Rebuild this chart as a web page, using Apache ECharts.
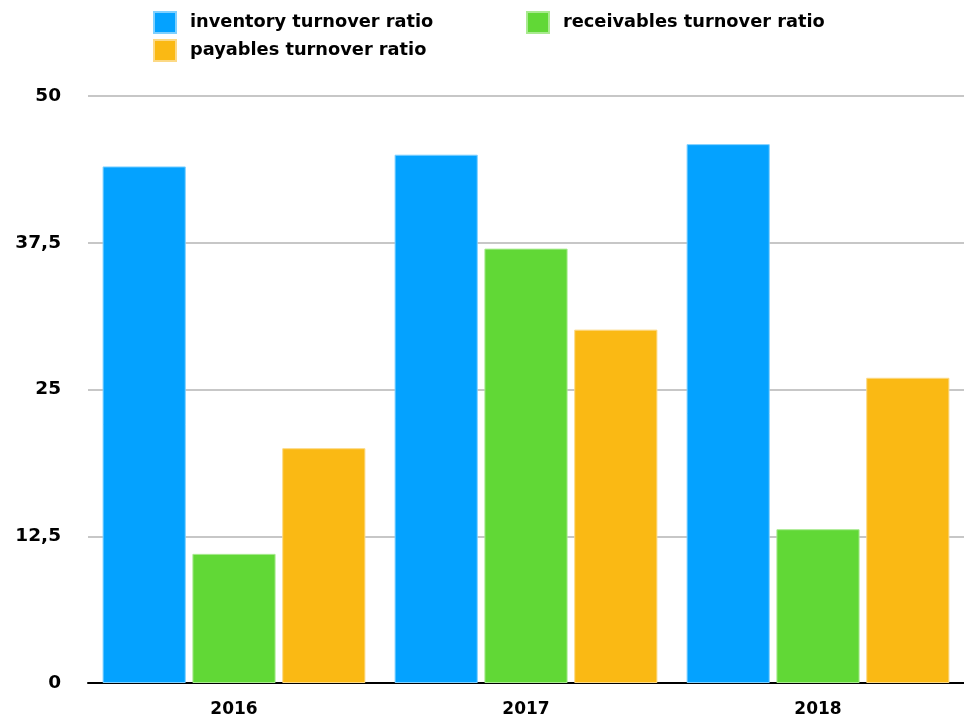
<!DOCTYPE html>
<html>
<head>
<meta charset="utf-8">
<script src="https://cdn.jsdelivr.net/npm/echarts@6/dist/echarts.min.js"></script>
<style>
  html, body { margin: 0; padding: 0; background: #ffffff; }
  #chart { width: 964px; height: 726px; }
</style>
</head>
<body>
<div id="chart"></div>
<script>
// Turnover ratios per year
const years = ['2016', '2017', '2018'];
const inventoryTurnover = [44.0, 45.0, 45.9];
const receivablesTurnover = [11.0, 37.0, 13.1];
const payablesTurnover = [20.0, 30.1, 26.0];
const yTicks = [0, 12.5, 25, 37.5, 50];

const FONT = '"DejaVu Sans", "Liberation Sans", sans-serif';
const colors = { inventory: '#04A2FF', receivables: '#61D836', payables: '#FAB914' };
const borders = { inventory: '#7fd0ff', receivables: '#a9ea90', payables: '#fcd985' };

function barSeries(name, data, key) {
  return {
    name: name,
    type: 'bar',
    data: data,
    barGap: '8%',
    barCategoryGap: '10%',
    itemStyle: { color: colors[key], borderColor: borders[key], borderWidth: 1 },
    emphasis: { disabled: true }
  };
}

const legendText = {
  fontFamily: FONT, fontWeight: 'bold', fontSize: 17.8, color: '#000',
  padding: [0, 0, 0, 9]
};

const chart = echarts.init(document.getElementById('chart'), null, { renderer: 'canvas' });
chart.setOption({
  animation: false,
  backgroundColor: '#ffffff',
  legend: [
    {
      data: ['inventory turnover ratio', 'payables turnover ratio'],
      orient: 'vertical',
      left: 148, top: 6,
      itemWidth: 22, itemHeight: 21, itemGap: 5,
      icon: 'rect',
      textStyle: legendText,
      selectedMode: false
    },
    {
      data: ['receivables turnover ratio'],
      orient: 'vertical',
      left: 521, top: 6,
      itemWidth: 22, itemHeight: 21,
      icon: 'rect',
      textStyle: legendText,
      selectedMode: false
    }
  ],
  grid: { left: 88, width: 887, top: 96, bottom: 43, containLabel: false },
  xAxis: {
    type: 'category',
    data: years,
    axisLine: { show: true, lineStyle: { color: '#000', width: 2 } },
    axisTick: { show: false },
    axisLabel: { fontFamily: FONT, fontWeight: 'bold', fontSize: 17, color: '#000', margin: 18 }
  },
  yAxis: {
    type: 'value',
    min: 0, max: 50, interval: 12.5,
    axisLine: { show: false },
    axisTick: { show: false },
    splitLine: { lineStyle: { color: '#b4b4b4', width: 1.5 } },
    axisLabel: {
      fontFamily: FONT, fontWeight: 'bold', fontSize: 18.5, color: '#000', margin: 27,
      formatter: function (v) {
        return yTicks.indexOf(v) >= 0 ? String(v).replace('.', ',') : '';
      }
    }
  },
  series: [
    barSeries('inventory turnover ratio', inventoryTurnover, 'inventory'),
    barSeries('receivables turnover ratio', receivablesTurnover, 'receivables'),
    barSeries('payables turnover ratio', payablesTurnover, 'payables')
  ]
});
</script>
</body>
</html>
